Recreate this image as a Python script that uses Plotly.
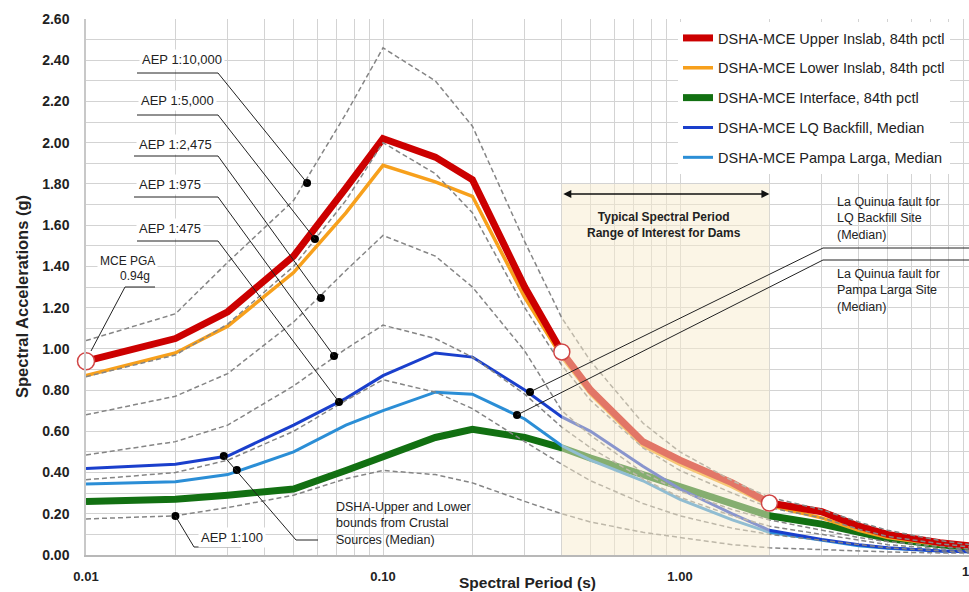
import math
import plotly.graph_objects as go

# ---------------- data ----------------
periods = [0.01, 0.02, 0.03, 0.05, 0.075, 0.1, 0.15, 0.2, 0.3, 0.4, 0.5, 0.75,
           1.0, 1.5, 2.0, 3.0, 4.0, 5.0, 7.5, 10.0]

upper_inslab = [0.94, 1.05, 1.18, 1.45, 1.78, 2.02, 1.93, 1.82, 1.30, 0.985, 0.80, 0.55,
                0.46, 0.35, 0.252, 0.21, 0.14, 0.10, 0.06, 0.04]
lower_inslab = [0.87, 0.98, 1.11, 1.37, 1.66, 1.89, 1.81, 1.74, 1.25, 0.96, 0.78, 0.53,
                0.44, 0.33, 0.24, 0.18, 0.12, 0.085, 0.05, 0.035]
interface = [0.26, 0.27, 0.29, 0.32, 0.41, 0.48, 0.57, 0.61, 0.57, 0.52, 0.47, 0.39,
             0.33, 0.25, 0.19, 0.15, 0.11, 0.08, 0.05, 0.035]
lq_backfill = [0.42, 0.44, 0.48, 0.63, 0.76, 0.87, 0.98, 0.96, 0.80, 0.67, 0.60, 0.43,
               0.32, 0.20, 0.12, 0.075, 0.05, 0.035, 0.02, 0.015]
pampa_larga = [0.345, 0.355, 0.39, 0.50, 0.63, 0.70, 0.79, 0.78, 0.66, 0.53, 0.46, 0.36,
               0.27, 0.17, 0.11, 0.07, 0.045, 0.033, 0.02, 0.015]

aep_10000 = [1.04, 1.17, 1.42, 1.72, 2.14, 2.46, 2.30, 2.08, 1.52, 1.15, 0.94, 0.64,
             0.50, 0.36, 0.28, 0.22, 0.16, 0.12, 0.07, 0.045]
aep_5000 = [0.865, 0.97, 1.12, 1.40, 1.72, 2.00, 1.85, 1.66, 1.20, 0.92, 0.75, 0.52,
            0.41, 0.30, 0.23, 0.18, 0.125, 0.09, 0.055, 0.035]
aep_2475 = [0.68, 0.77, 0.88, 1.13, 1.38, 1.55, 1.45, 1.30, 0.99, 0.70, 0.58, 0.40,
            0.31, 0.22, 0.17, 0.12, 0.085, 0.065, 0.04, 0.025]
aep_975 = [0.485, 0.55, 0.63, 0.82, 1.00, 1.115, 1.05, 0.96, 0.78, 0.62, 0.52, 0.37,
           0.28, 0.19, 0.14, 0.10, 0.07, 0.05, 0.03, 0.02]
aep_475 = [0.365, 0.40, 0.46, 0.60, 0.75, 0.85, 0.79, 0.71, 0.55, 0.44, 0.36, 0.25,
           0.19, 0.13, 0.10, 0.07, 0.05, 0.035, 0.02, 0.015]
aep_100 = [0.175, 0.19, 0.23, 0.29, 0.37, 0.41, 0.39, 0.35, 0.26, 0.20, 0.16, 0.11,
           0.085, 0.05, 0.035, 0.025, 0.02, 0.015, 0.01, 0.01]

series_names = ["DSHA-MCE Upper Inslab, 84th pctl", "DSHA-MCE Lower Inslab, 84th pctl",
                "DSHA-MCE Interface, 84th pctl", "DSHA-MCE LQ Backfill, Median",
                "DSHA-MCE Pampa Larga, Median"]

# annotation anchor points (period, acceleration)
aep_labels = ["AEP 1:10,000", "AEP 1:5,000", "AEP 1:2,475", "AEP 1:975", "AEP 1:475"]
aep_dot_T = [0.0555, 0.059, 0.0618, 0.0684, 0.0711]
aep_dot_v = [1.805, 1.533, 1.247, 0.965, 0.742]
aep100_dot = (0.02, 0.189)
crustal_dots_T = [0.0291, 0.0322]
crustal_dots_v = [0.480, 0.412]
lq_dots_T = [0.3126, 0.2826]
lq_dots_v = [0.791, 0.679]
mce_pga = (0.01, 0.94)
circle_pts = [(0.4, 0.985), (2.0, 0.252)]
dam_range = (0.4, 2.0)
dam_top = 1.80

xticks = [0.01, 0.1, 1.0]
xticktext = ["0.01", "0.10", "1.00"]
yticks = [i * 0.2 for i in range(14)]
yticktext = ["%.2f" % v for v in yticks]

# ---------------- layout geometry helpers ----------------
W, H = 969, 592
L, R, T_, B = 86, 0, 19, 37
PW, PH = W - L - R, H - T_ - B
XLOG0 = -2.0
DEC = 297.0                      # pixels per decade
XLOG1 = XLOG0 + PW / DEC
YMAX = 2.6
PXV = PH / YMAX                  # pixels per g


def px(x):  # pixel -> paper x
    return (x - L) / PW


def py(y):  # pixel -> paper y
    return (H - B - y) / PH


def dT(x):  # pixel -> period (data)
    return 10 ** (XLOG0 + (x - L) / DEC)


def dV(y):  # pixel -> acceleration (data)
    return (H - B - y) / PH * YMAX


FONT = "Liberation Sans, Arial, sans-serif"
TXT = "#222222"

fig = go.Figure()

# coloured DSHA curves (draw order) with legend rank
colored = [
    (interface, "#127012", 7, 3),
    (pampa_larga, "#2b8ed6", 3, 5),
    (lq_backfill, "#1a3fcc", 3, 4),
    (lower_inslab, "#f7a01c", 3.5, 2),
    (upper_inslab, "#cc0000", 7, 1),
]
for arr, col, w, rank in colored:
    fig.add_trace(go.Scatter(
        x=periods, y=arr, mode="lines", name=series_names[rank - 1],
        line=dict(color=col, width=w), legendrank=rank, legendgroup="g%d" % rank,
        hoverinfo="skip"))

# dashed hazard curves
for arr in [aep_10000, aep_5000, aep_2475, aep_975, aep_475, aep_100]:
    fig.add_trace(go.Scatter(
        x=periods, y=arr, mode="lines", showlegend=False, hoverinfo="skip",
        line=dict(color="#858585", width=1.5, dash="5px,3px")))

# black anchor dots
dots_T = aep_dot_T + [aep100_dot[0]] + crustal_dots_T + lq_dots_T
dots_v = aep_dot_v + [aep100_dot[1]] + crustal_dots_v + lq_dots_v
fig.add_trace(go.Scatter(x=dots_T, y=dots_v, mode="markers", showlegend=False,
                         hoverinfo="skip", cliponaxis=False,
                         marker=dict(color="black", size=8)))
# MCE PGA circle
fig.add_trace(go.Scatter(x=[mce_pga[0]], y=[mce_pga[1]], mode="markers", showlegend=False,
                         hoverinfo="skip", cliponaxis=False,
                         marker=dict(color="white", size=17,
                                     line=dict(color="#d04545", width=1.5))))

shapes = []
annos = []


def seg(x0, y0, x1, y1, w=1, col="#222222"):
    shapes.append(dict(type="line", xref="x", yref="y", x0=x0, y0=y0, x1=x1, y1=y1,
                       line=dict(color=col, width=w), layer="above"))


def label(text, x, y, size=13, anchor="center", bg="white", bold=False, align="center"):
    annos.append(dict(text=("<b>%s</b>" % text) if bold else text, xref="paper", yref="paper",
                      x=px(x), y=py(y), xanchor=anchor, yanchor="middle", showarrow=False,
                      align=align, bgcolor=bg, borderpad=2,
                      font=dict(family=FONT, size=size, color=TXT)))


# white boxes hiding the grid behind text blocks
for (x0, y0, x1, y1) in [(822, 185, 969, 322), (318, 497, 486, 548)]:
    shapes.append(dict(type="rect", xref="paper", yref="paper", x0=px(x0), x1=px(x1),
                       y0=py(y1), y1=py(y0), fillcolor="white", line=dict(width=0),
                       layer="between"))

# dam period range shading (above traces, semi transparent)
shapes.append(dict(type="rect", xref="x", yref="y", x0=dam_range[0], x1=dam_range[1],
                   y0=0, y1=dam_top, fillcolor="rgba(248,236,205,0.5)",
                   line=dict(width=0), layer="above"))

# white circles on the upper inslab curve (8 px radius)
RAD = 8.0
for (ct, cv) in circle_pts:
    fx = 10 ** (RAD / DEC)
    dv = RAD / PXV
    shapes.append(dict(type="circle", xref="x", yref="y",
                       x0=ct / fx, x1=ct * fx, y0=cv - dv, y1=cv + dv,
                       fillcolor="white", line=dict(color="#d04545", width=1.5),
                       layer="above"))

# AEP labels with underline and leader
aep_text_x = [182, 177, 175, 170, 170]
aep_text_y = [59, 100, 144, 185, 229]
aep_line_y = [73, 115, 156, 197, 241]
aep_line_x0 = [137, 137, 134, 134, 137]
for i, t in enumerate(aep_labels):
    label(t, aep_text_x[i], aep_text_y[i])
    seg(dT(aep_line_x0[i]), dV(aep_line_y[i]), dT(218), dV(aep_line_y[i]))
    seg(dT(218), dV(aep_line_y[i]), aep_dot_T[i], aep_dot_v[i])

# MCE PGA
label("MCE PGA", 127, 261, size=12)
label("0.94g", 135, 276, size=12)
seg(dT(125), dV(287), dT(155), dV(287))
seg(dT(125), dV(287), dT(91), dV(351))

# AEP 1:100
label("AEP 1:100", 232, 537)
seg(dT(194), dV(547), dT(241), dV(547))
seg(dT(194), dV(547), aep100_dot[0], aep100_dot[1])

# crustal bounds
label("DSHA-Upper and Lower<br>bounds from Crustal<br>Sources (Median)", 333, 523,
      size=12.5, anchor="left", bg="rgba(0,0,0,0)", align="left")
seg(crustal_dots_T[0], crustal_dots_v[0], dT(296), dV(540))
seg(dT(296), dV(540), dT(318), dV(540))

# La Quinua labels
label("La Quinua fault for<br>LQ Backfill Site<br>(Median)", 834, 218, size=12.5,
      anchor="left", bg="rgba(0,0,0,0)", align="left")
label("La Quinua fault for<br>Pampa Larga Site<br>(Median)", 834, 290, size=12.5,
      anchor="left", bg="rgba(0,0,0,0)", align="left")
seg(dT(823), dV(248), dT(969), dV(248))
seg(dT(823), dV(260), dT(969), dV(260))
seg(dT(823), dV(248), lq_dots_T[0], lq_dots_v[0])
seg(dT(823), dV(260), lq_dots_T[1], lq_dots_v[1])

# dam range arrow + text
annos.append(dict(x=math.log10(dam_range[1]), y=dV(194), xref="x", yref="y",
                  ax=math.log10(dam_range[0]), ay=dV(194), axref="x", ayref="y",
                  text="", showarrow=True, arrowhead=2, startarrowhead=2, arrowside="end+start",
                  arrowsize=1, arrowwidth=1.6, arrowcolor="#111111"))
label("Typical Spectral Period<br>Range of Interest for Dams", 664, 225, size=12, bold=True,
      bg="rgba(0,0,0,0)")

# axis titles and cut-off last tick label (the reference is cropped at 10.00)
annos.append(dict(text="<b>Spectral Period (s)</b>", xref="paper", yref="paper",
                  x=px(527), y=py(582), xanchor="center", yanchor="middle", showarrow=False,
                  font=dict(family=FONT, size=15.5, color=TXT)))
annos.append(dict(text="<b>Spectral Accelerations (g)</b>", xref="paper", yref="paper",
                  x=px(22), y=py(297), xanchor="center", yanchor="middle", showarrow=False,
                  textangle=-90, font=dict(family=FONT, size=16.5, color=TXT)))
annos.append(dict(text="<b>10.00</b>", xref="paper", yref="paper",
                  x=px(978), y=py(571), xanchor="center", yanchor="middle", showarrow=False,
                  font=dict(family=FONT, size=13, color=TXT)))

minor_x = [k * 10 ** e for e in (-2, -1, 0) for k in range(2, 10)]
GRID = "#d3d3d3"

fig.update_layout(
    width=W, height=H, margin=dict(l=L, r=R, t=T_, b=B, autoexpand=False),
    paper_bgcolor="white", plot_bgcolor="white",
    font=dict(family=FONT, color=TXT),
    shapes=shapes, annotations=annos,
    showlegend=True,
    legend=dict(x=px(678), y=py(22), xanchor="left", yanchor="top", bgcolor="white",
                borderwidth=0, font=dict(family=FONT, size=14.5, color=TXT),
                tracegroupgap=8, itemwidth=30),
    xaxis=dict(type="log", range=[XLOG0, XLOG1], tickvals=xticks, ticktext=xticktext,
               showgrid=True, gridcolor=GRID, gridwidth=1,
               minor=dict(tickvals=minor_x, showgrid=True, gridcolor=GRID, gridwidth=1),
               showline=True, linecolor="#b8b8b8", linewidth=2, zeroline=False,
               ticks="", ticklabelstandoff=8, automargin=False,
               tickfont=dict(family=FONT, size=13, color=TXT, weight="bold")),
    yaxis=dict(range=[0, YMAX], tickvals=yticks, ticktext=yticktext,
               showgrid=True, gridcolor=GRID, gridwidth=1,
               minor=dict(dtick=0.1, showgrid=True, gridcolor=GRID, gridwidth=1),
               showline=True, linecolor="#c8c8c8", linewidth=1.5, zeroline=False,
               ticks="", ticklabelstandoff=12, automargin=False,
               tickfont=dict(family=FONT, size=14, color=TXT, weight="bold")),
)

fig.write_html("out.html")
